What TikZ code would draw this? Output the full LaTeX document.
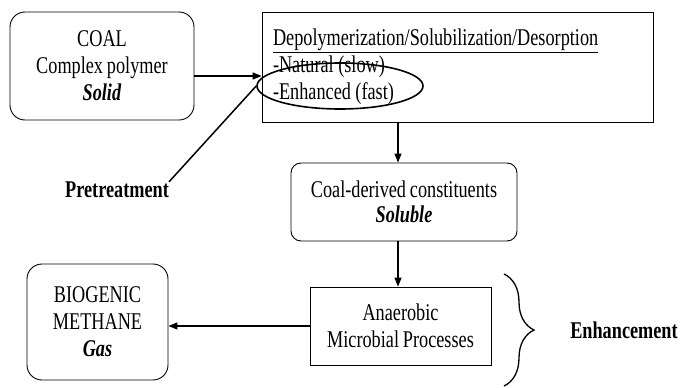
\documentclass[tikz,border=0pt]{standalone}
\usepackage{fontspec}
\setmainfont{Liberation Serif}[FakeStretch=0.76, WordSpace=0.85]
\usetikzlibrary{arrows.meta,shapes.geometric,decorations.pathreplacing}
\tikzset{
  phasebox/.style = {draw, rounded corners=15pt, align=center, line width=0.9pt},
  procbox/.style = {draw, align=center, line width=0.7pt},
  flow/.style = {-{Triangle[length=9pt,width=7pt]}, line width=1.2pt},
  side_label/.style = {font=\fontsize{24}{27}\selectfont\bfseries}
}

\begin{document}
\begin{tikzpicture}[x=1pt, y=-1pt, every node/.style={font=\fontsize{24}{27}\selectfont, inner sep=0pt}]
  \useasboundingbox (0,0) rectangle (681,388);
  % states of the coal
  \node [phasebox, minimum width=184pt, minimum height=108pt] (coal) at (102,66)
    {COAL\\Complex polymer\\\textbf{\textit{Solid}}};
  \node [phasebox, rounded corners=10pt, minimum width=226pt, minimum height=78pt] (soluble) at (404,202)
    {Coal-derived constituents\\[-2pt]\textbf{\textit{Soluble}}};
  \node [phasebox, minimum width=141pt, minimum height=116pt] (gas) at (97.5,322)
    {BIOGENIC\\METHANE\\\textbf{\textit{Gas}}};
  % processes
  \node [procbox, align=left, text width=369pt, inner xsep=11pt, minimum height=110pt] (depol) at (457.5,67)
    {\underline{Depolymerization/Solubilization/Desorption}\\\mbox{-Natural\kern4.5pt(slow)}\\\mbox{-Enhanced\kern4.5pt(fast)}\par\vspace{11pt}};
  \node [procbox, minimum width=181pt, minimum height=78pt] (anaer) at (400.5,326)
    {Anaerobic\\Microbial Processes};
  \node [draw, ellipse, line width=1.6pt, minimum width=166pt, minimum height=46pt] (enh) at (340,86) {};
  % side labels
  \node [side_label] (pret) at (117,190) {Pretreatment};
  \node [side_label] (boost) at (624,330) {Enhancement};
  \coordinate (brace_top) at (504,274);
  \coordinate (brace_bot) at (504,386);

  \draw [flow] ([yshift=-10pt]coal.east) -- ([yshift=-10pt]coal.east -| depol.west);
  \draw [flow] ([xshift=-6pt]soluble.north |- depol.south) -- ([xshift=-6pt]soluble.north);
  \draw [flow] ([xshift=-6pt]soluble.south) -- ([xshift=-6pt]soluble.south |- anaer.north);
  \draw [flow] (anaer.west) -- (anaer.west -| gas.east);
  \draw [line width=1.5pt] (pret.north east) -- (enh.west);
  \draw [line width=1.3pt, decorate, decoration={brace, amplitude=30pt}] (brace_top) -- (brace_bot);
\end{tikzpicture}
\end{document}
